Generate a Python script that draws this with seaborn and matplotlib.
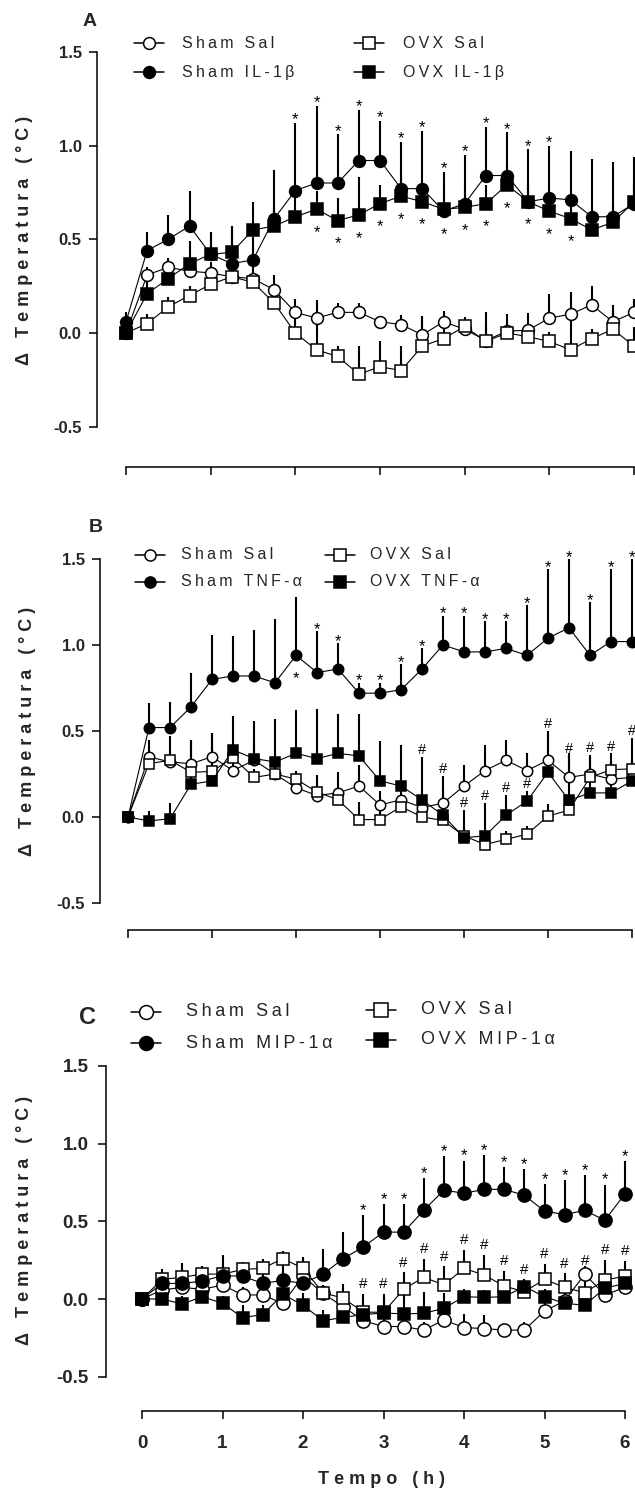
import numpy as np
import pandas as pd
import matplotlib
matplotlib.use("Agg")
import matplotlib.pyplot as plt
import seaborn as sns
from matplotlib.lines import Line2D

sns.set_style("white")
plt.rcParams["font.family"] = ["Liberation Sans", "DejaVu Sans"]
plt.rcParams["axes.unicode_minus"] = False

# ---------------- data ----------------
time_h = np.arange(25) * 0.25
x_ticks = [0, 1, 2, 3, 4, 5, 6]
y_ticks = [-0.5, 0.0, 0.5, 1.0, 1.5]
y_tick_labels = ["-0.5", "0.0", "0.5", "1.0", "1.5"]
x_tick_labels = ["0", "1", "2", "3", "4", "5", "6"]

# Panel A (IL-1beta)
a_sham_sal = [0.0, 0.31, 0.35, 0.33, 0.32, 0.30, 0.29, 0.23, 0.11, 0.08, 0.11, 0.11, 0.06,
              0.045, -0.01, 0.06, 0.02, -0.04, 0.01, 0.015, 0.08, 0.10, 0.15, 0.06, 0.11]
a_sham_sal_sem = [0.03, 0.04, 0.05, 0.06, 0.06, 0.06, 0.06, 0.08, 0.07, 0.095, 0.05, 0.05, 0.03,
                  0.05, 0.1, 0.06, 0.04, 0.08, 0.09, 0.09, 0.13, 0.12, 0.10, 0.09, 0.07]
a_ovx_sal = [0.0, 0.05, 0.14, 0.20, 0.26, 0.30, 0.27, 0.16, 0.0, -0.09, -0.125, -0.22, -0.18,
             -0.20, -0.07, -0.03, 0.035, -0.045, 0.0, -0.02, -0.045, -0.09, -0.03, 0.02, -0.07]
a_ovx_sal_sem = [0.0, 0.05, 0.05, 0.05, 0.05, 0.05, 0.05, 0.05, 0.08, 0.17, 0.055, 0.15, 0.135,
                 0.13, 0.16, 0.06, 0.05, 0.155, 0.05, 0.05, 0.05, 0.19, 0.05, 0.10, 0.10]
a_sham_il = [0.06, 0.44, 0.50, 0.57, 0.42, 0.37, 0.39, 0.61, 0.76, 0.80, 0.80, 0.92, 0.92,
             0.77, 0.77, 0.65, 0.69, 0.84, 0.84, 0.70, 0.72, 0.71, 0.62, 0.62, 0.69]
a_sham_il_sem = [0.05, 0.10, 0.13, 0.19, 0.12, 0.20, 0.12, 0.26, 0.36, 0.41, 0.26, 0.27, 0.21,
                 0.25, 0.31, 0.21, 0.26, 0.26, 0.23, 0.28, 0.28, 0.26, 0.31, 0.29, 0.25]
a_ovx_il = [0.0, 0.21, 0.29, 0.37, 0.42, 0.43, 0.55, 0.57, 0.62, 0.66, 0.60, 0.63, 0.69,
            0.73, 0.70, 0.66, 0.67, 0.69, 0.79, 0.70, 0.65, 0.61, 0.55, 0.59, 0.70]
a_ovx_il_sem = [0.0, 0.10, 0.10, 0.12, 0.12, 0.14, 0.15, 0.10, 0.10, 0.10, 0.12, 0.20, 0.10,
                0.10, 0.10, 0.10, 0.10, 0.10, 0.10, 0.10, 0.10, 0.10, 0.10, 0.10, 0.10]
a_star_above = list(range(8, 21))
a_star_below = list(range(9, 22))

# Panel B (TNF-alpha)
b_sham_sal = [0.0, 0.35, 0.32, 0.31, 0.35, 0.27, 0.33, 0.25, 0.17, 0.125, 0.14, 0.18, 0.07,
              0.10, 0.055, 0.08, 0.18, 0.27, 0.33, 0.27, 0.33, 0.23, 0.25, 0.22, 0.23]
b_sham_sal_sem = [0.0, 0.10, 0.15, 0.14, 0.14, 0.10, 0.10, 0.10, 0.08, 0.12, 0.12, 0.12, 0.08,
                  0.12, 0.08, 0.08, 0.12, 0.15, 0.12, 0.10, 0.15, 0.14, 0.10, 0.10, 0.10]
b_ovx_sal = [0.0, 0.31, 0.33, 0.26, 0.265, 0.345, 0.23, 0.25, 0.22, 0.145, 0.10, -0.015, -0.015,
             0.06, 0.0, -0.02, -0.11, -0.16, -0.13, -0.10, 0.005, 0.04, 0.23, 0.275, 0.28]
b_ovx_sal_sem = [0.0, 0.05, 0.05, 0.05, 0.05, 0.05, 0.05, 0.05, 0.05, 0.05, 0.05, 0.10, 0.10,
                 0.05, 0.05, 0.05, 0.05, 0.05, 0.05, 0.05, 0.07, 0.07, 0.05, 0.05, 0.05]
b_sham_tnf = [0.0, 0.52, 0.52, 0.64, 0.80, 0.82, 0.82, 0.78, 0.94, 0.84, 0.86, 0.72, 0.72,
              0.74, 0.86, 1.00, 0.96, 0.96, 0.98, 0.94, 1.04, 1.10, 0.94, 1.02, 1.02]
b_sham_tnf_sem = [0.0, 0.14, 0.15, 0.20, 0.26, 0.23, 0.27, 0.37, 0.34, 0.24, 0.15, 0.06, 0.06,
                  0.15, 0.12, 0.17, 0.21, 0.18, 0.16, 0.29, 0.40, 0.40, 0.31, 0.42, 0.48]
b_ovx_tnf = [0.0, -0.023, -0.01, 0.19, 0.21, 0.39, 0.34, 0.32, 0.37, 0.34, 0.37, 0.355, 0.21,
             0.18, 0.10, 0.01, -0.12, -0.11, 0.01, 0.093, 0.26, 0.097, 0.14, 0.14, 0.21]
b_ovx_tnf_sem = [0.0, 0.06, 0.09, 0.26, 0.28, 0.20, 0.22, 0.25, 0.25, 0.29, 0.23, 0.245, 0.23,
                 0.24, 0.25, 0.23, 0.16, 0.19, 0.12, 0.06, 0.24, 0.26, 0.22, 0.23, 0.25]
b_star_above = list(range(9, 25))
b_star_below = [8]
b_hash_above = list(range(14, 25))

# Panel C (MIP-1alpha)
c_sham_sal = [0.0, 0.058, 0.075, 0.062, 0.09, 0.026, 0.026, -0.028, 0.147, 0.036, -0.05, -0.14,
              -0.177, -0.177, -0.20, -0.135, -0.184, -0.19, -0.20, -0.20, -0.077, -0.013, 0.16,
              0.026, 0.075]
c_sham_sal_sem = [0.0, 0.05, 0.05, 0.05, 0.08, 0.05, 0.05, 0.05, 0.05, 0.05, 0.07, 0.05, 0.06,
                  0.06, 0.05, 0.05, 0.09, 0.09, 0.03, 0.05, 0.05, 0.05, 0.05, 0.05, 0.05]
c_ovx_sal = [0.0, 0.126, 0.14, 0.16, 0.16, 0.19, 0.197, 0.26, 0.197, 0.04, 0.005, -0.085, -0.085,
             0.062, 0.14, 0.09, 0.197, 0.154, 0.083, 0.047, 0.126, 0.075, 0.04, 0.122, 0.147]
c_ovx_sal_sem = [0.0, 0.05, 0.05, 0.05, 0.05, 0.05, 0.06, 0.05, 0.06, 0.05, 0.09, 0.12, 0.12,
                 0.11, 0.12, 0.12, 0.12, 0.13, 0.10, 0.08, 0.10, 0.09, 0.14, 0.13, 0.10]
c_sham_mip = [0.0, 0.10, 0.10, 0.115, 0.15, 0.147, 0.10, 0.12, 0.10, 0.16, 0.26, 0.335, 0.43,
              0.43, 0.57, 0.70, 0.68, 0.705, 0.705, 0.667, 0.565, 0.543, 0.57, 0.506, 0.677]
c_sham_mip_sem = [0.0, 0.09, 0.13, 0.07, 0.13, 0.09, 0.10, 0.10, 0.17, 0.16, 0.17, 0.205, 0.18,
                  0.18, 0.21, 0.22, 0.21, 0.22, 0.145, 0.17, 0.175, 0.22, 0.225, 0.23, 0.21]
c_ovx_mip = [0.0, 0.0, -0.032, 0.015, -0.028, -0.12, -0.10, 0.03, -0.04, -0.14, -0.118, -0.10,
             -0.09, -0.096, -0.092, -0.06, 0.015, 0.01, 0.015, 0.08, 0.015, -0.028, -0.04, 0.07, 0.10]
c_ovx_mip_sem = [0.0, 0.05, 0.05, 0.05, 0.05, 0.08, 0.06, 0.05, 0.08, 0.07, 0.07, 0.06, 0.10,
                 0.14, 0.14, 0.10, 0.05, 0.05, 0.05, 0.05, 0.05, 0.05, 0.05, 0.05, 0.05]
c_star_above = list(range(11, 25))
c_hash_above = list(range(11, 25))

legend_a = ["Sham Sal", "Sham IL-1β", "OVX Sal", "OVX IL-1β"]
legend_b = ["Sham Sal", "Sham TNF-α", "OVX Sal", "OVX TNF-α"]
legend_c = ["Sham Sal", "Sham MIP-1α", "OVX Sal", "OVX MIP-1α"]
panel_letters = ["A", "B", "C"]
y_label = "Δ Temperatura (°C)"
x_label = "Tempo (h)"

# ---------------- layout helpers ----------------
W, H = 635, 1493
fig = plt.figure(figsize=(W / 100, H / 100), dpi=100)


def spaced(text, gap="\u2009"):
    return (gap + " " + gap).join(gap.join(w) for w in text.split(" "))


def make_axes(L, R, T, B, x0px, xscale, y0px, yscale):
    ax = fig.add_axes([L / W, 1 - B / H, (R - L) / W, (B - T) / H])
    ax.set_xlim((L - x0px) / xscale, (R - x0px) / xscale)
    ax.set_ylim((y0px - B) / yscale, (y0px - T) / yscale)
    ax.set_facecolor("none")
    for s in ["top", "right"]:
        ax.spines[s].set_visible(False)
    for s in ["left", "bottom"]:
        ax.spines[s].set_linewidth(1.1)
        ax.spines[s].set_color("black")
    ax.spines["left"].set_bounds(-0.5, 1.5)
    ax.spines["bottom"].set_bounds(0, 6)
    ax.set_yticks(y_ticks)
    ax.set_xticks(x_ticks)
    ax.tick_params(direction="out", length=6, width=1.1, color="black",
                   bottom=True, left=True, top=False, right=False)
    ax.grid(False)
    return ax


def draw_series(ax, y, sem, marker, filled, ms, z):
    y = np.asarray(y)
    sem = np.asarray(sem)
    ax.vlines(time_h, y, y + sem, color="black", lw=1.5, zorder=2)
    df = pd.DataFrame({"t": time_h, "v": y})
    sns.lineplot(data=df, x="t", y="v", ax=ax, color="black", lw=0.8, marker=marker,
                 markersize=ms, markerfacecolor="black" if filled else "white",
                 markeredgecolor="black", markeredgewidth=1.1, zorder=z,
                 errorbar=None, legend=False)


def mark(ax, idx, base, dy_pt, ch, fs):
    for i in idx:
        ax.annotate(ch, (time_h[i], base[i]), xytext=(0, dy_pt), textcoords="offset points",
                    ha="center", va="baseline", fontsize=fs, color="black", zorder=6)


def legend(labels, col_x, text_x, rows, ms, fs, lw=1.1):
    styles = [("o", False), ("o", True), ("s", False), ("s", True)]
    for k, (lab, (mk, filled)) in enumerate(zip(labels, styles)):
        c = k // 2
        r = k % 2
        xc = col_x[c]
        yy = 1 - rows[c][r] / H
        fig.add_artist(Line2D([(xc - 15) / W, (xc + 15) / W], [yy, yy], color="black", lw=lw,
                              transform=fig.transFigure))
        fig.add_artist(Line2D([xc / W], [yy], marker=mk, markersize=ms,
                              markerfacecolor="black" if filled else "white",
                              markeredgecolor="black", markeredgewidth=1.1,
                              transform=fig.transFigure))
        fig.text(text_x[c] / W, yy, spaced(lab), ha="left", va="center", fontsize=fs)


def style_ticks(ax, fs, pad, show_x):
    ax.set_yticklabels(y_tick_labels, fontsize=fs, fontweight="bold")
    ax.tick_params(axis="y", pad=pad)
    if show_x:
        ax.set_xticklabels(x_tick_labels, fontsize=fs, fontweight="bold")
        ax.tick_params(axis="x", pad=11)
    else:
        ax.set_xticklabels([])
    ax.set_xlabel("")
    ax.set_ylabel("")


def ylab(xc, yc):
    fig.text(xc / W, 1 - yc / H, spaced(y_label, gap=" "), rotation=90, ha="center",
             va="center", fontsize=13, fontweight="bold")


# ---------------- Panel A ----------------
axA = make_axes(97, 635, 30, 467, 126, 84.67, 333, 187.5)
draw_series(axA, a_sham_sal, a_sham_sal_sem, "o", False, 8.5, 3)
draw_series(axA, a_ovx_sal, a_ovx_sal_sem, "s", False, 8.0, 3.1)
draw_series(axA, a_sham_il, a_sham_il_sem, "o", True, 8.5, 3.2)
draw_series(axA, a_ovx_il, a_ovx_il_sem, "s", True, 8.0, 3.3)
a_top = np.array(a_sham_il) + np.array(a_sham_il_sem)
mark(axA, a_star_above, a_top, -1, "*", 12)
mark(axA, a_star_below, np.minimum(a_sham_il, a_ovx_il), -20, "*", 12)
style_ticks(axA, 12, 5, False)
legend(legend_a, [149, 369], [182, 403], [[43, 72], [43, 72]], 8.5, 11.5)
fig.text(90 / W, 1 - 22 / H, panel_letters[0], ha="center", va="center", fontsize=14,
         fontweight="bold")
ylab(25, 240)

# ---------------- Panel B ----------------
axB = make_axes(100, 635, 540, 930, 128, 84.0, 817, 172.0)
draw_series(axB, b_sham_sal, b_sham_sal_sem, "o", False, 7.5, 3)
draw_series(axB, b_ovx_sal, b_ovx_sal_sem, "s", False, 7.5, 3.1)
draw_series(axB, b_sham_tnf, b_sham_tnf_sem, "o", True, 7.5, 3.2)
draw_series(axB, b_ovx_tnf, b_ovx_tnf_sem, "s", True, 7.5, 3.3)
b_top = np.array(b_sham_tnf) + np.array(b_sham_tnf_sem)
mark(axB, b_star_above, b_top, -2, "*", 12)
mark(axB, b_star_below, b_sham_tnf, -20, "*", 12)
b_hash_base = np.array(b_ovx_tnf) + np.array(b_ovx_tnf_sem)
mark(axB, b_hash_above, b_hash_base, 2, "#", 10.5)
style_ticks(axB, 12, 5, False)
legend(legend_b, [150, 340], [181, 370], [[555, 582], [555, 582]], 8.0, 11.5)
fig.text(96 / W, 1 - 528 / H, panel_letters[1], ha="center", va="center", fontsize=14,
         fontweight="bold")
ylab(28, 731)

# ---------------- Panel C ----------------
axC = make_axes(106, 635, 1050, 1411, 142, 80.5, 1299, 155.5)
draw_series(axC, c_sham_sal, c_sham_sal_sem, "o", False, 9.5, 3)
draw_series(axC, c_ovx_sal, c_ovx_sal_sem, "s", False, 8.5, 3.1)
draw_series(axC, c_sham_mip, c_sham_mip_sem, "o", True, 9.5, 3.2)
draw_series(axC, c_ovx_mip, c_ovx_mip_sem, "s", True, 8.5, 3.3)
c_top = np.array(c_sham_mip) + np.array(c_sham_mip_sem)
mark(axC, c_star_above, c_top, 0, "*", 12)
c_hash_base = np.array(c_ovx_sal) + np.array(c_ovx_sal_sem)
mark(axC, c_hash_above, c_hash_base, 4, "#", 11)
style_ticks(axC, 13.5, 6.5, True)
legend(legend_c, [146, 381], [186, 421], [[1012, 1043], [1010, 1040]], 10, 13)
fig.text(88 / W, 1 - 1017 / H, panel_letters[2], ha="center", va="center", fontsize=17,
         fontweight="bold")
ylab(25, 1220)
fig.text(382 / W, 1 - 1480 / H, spaced(x_label, gap=" "), ha="center", va="center",
         fontsize=13, fontweight="bold")

fig.savefig("out.png", dpi=100, facecolor="white")
